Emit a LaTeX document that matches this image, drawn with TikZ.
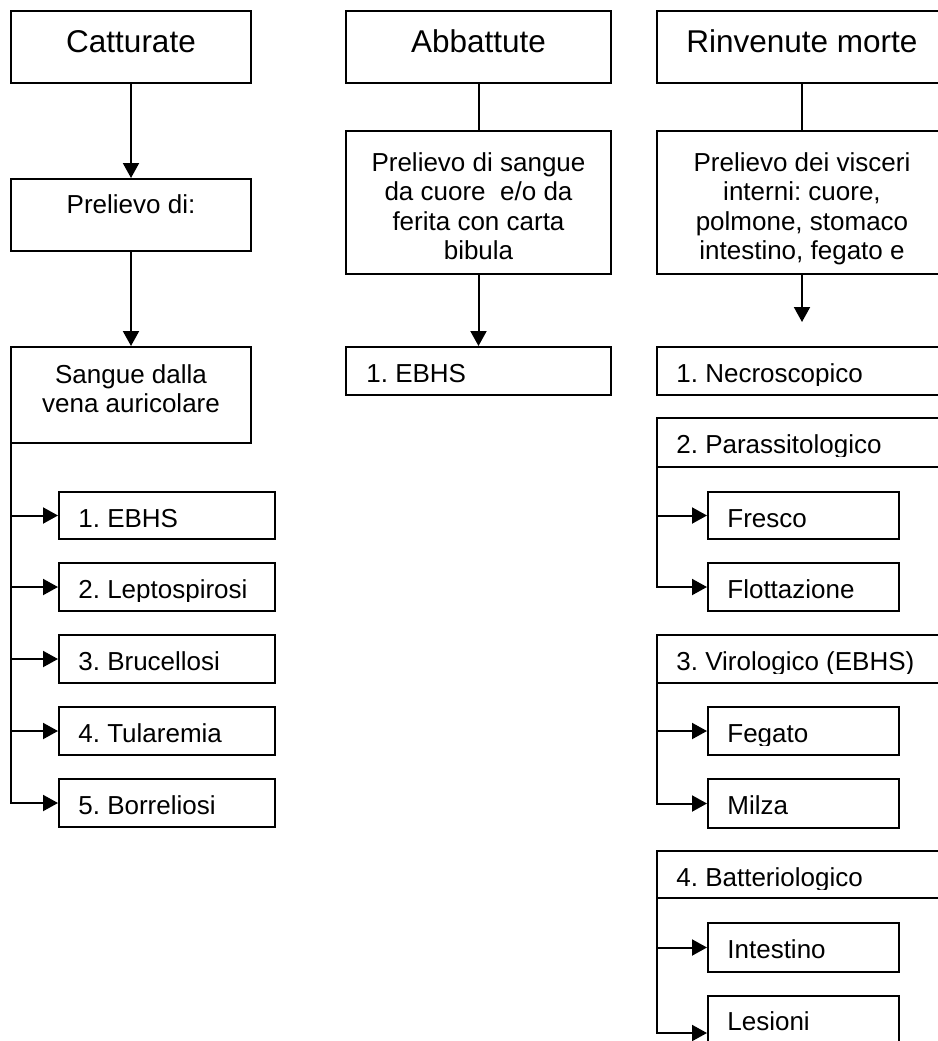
\documentclass[tikz,border=0pt]{standalone}
\usepackage{fontspec}
\setmainfont{Liberation Sans}
\usetikzlibrary{arrows.meta,fit}
\tikzset{
  box/.style={draw, line width=1pt, inner sep=0pt, rectangle},
  link/.style={line width=1pt},
  arr/.style={line width=1pt, -{Triangle[length=7.5pt,width=8pt]}},
  head/.style={inner sep=0pt, font=\fontsize{15.75}{18}\selectfont\frenchspacing, anchor=base},
  ctext/.style={inner sep=0pt, font=\fontsize{13}{14.75}\selectfont\frenchspacing, anchor=base},
  ltext/.style={inner sep=0pt, font=\fontsize{13}{14.75}\selectfont\frenchspacing, anchor=base west},
}
% rectangle through two corners: name, x1, y1, x2, y2
\newcommand\bx[5]{\node[box, fit={(#2,#3) (#4,#5)}] (#1) {};}
% centred lines, baseline of the node = baseline of the first line
\newcommand\lines[1]{\begin{tabular}[t]{@{}c@{}}#1\end{tabular}}
% left-aligned label, cut just under its baseline
\newcommand\lbl[4]{\begin{scope}\clip ({#2-10},{#3-40}) rectangle ({#2+400},{#3+3.5});\node[ltext] (#1) at (#2,#3) {#4};\end{scope}}
\begin{document}
\begin{tikzpicture}[x=0.5pt,y=-0.5pt]
\useasboundingbox (0,0) rectangle (938,1041);
\clip (0,0) rectangle (938,1041);

% ---- column 1: Catturate
\bx{cat}{11}{11}{251}{83}
\bx{pre1}{11}{179}{251}{251}
\bx{sang}{11}{347}{251}{443}
\bx{c1}{59}{492}{275}{539}
\bx{c2}{59}{563}{275}{611}
\bx{c3}{59}{635}{275}{683}
\bx{c4}{59}{707}{275}{755}
\bx{c5}{59}{779}{275}{827}
\node[head] (tcat) at (131,52) {Catturate};
\node[ctext] (tpre1) at (131,213) {Prelievo di:};
\node[ctext] (tsang) at (131,383) {\lines{Sangue dalla\\vena auricolare}};
\lbl{tc1}{78}{527}{1. EBHS}
\lbl{tc2}{78}{598}{2. Leptospirosi}
\lbl{tc3}{78}{670}{3. Brucellosi}
\lbl{tc4}{78}{742}{4. Tularemia}
\lbl{tc5}{78}{814}{5. Borreliosi}
\draw[arr] (cat.south) -- (pre1.north);
\draw[arr] (pre1.south) -- (sang.north);
\foreach \c in {c1,c2,c3,c4,c5}
  \draw[arr] ([xshift=0.5pt]sang.south west) |- (\c.west);

% ---- column 2: Abbattute
\bx{abb}{346}{11}{611}{83}
\bx{pre2}{346}{131}{611}{274}
\bx{eb2}{346}{347}{611}{395}
\node[head] (tabb) at (478.5,52) {Abbattute};
\node[ctext] (tpre2) at (478.5,171) {\lines{Prelievo di sangue\\da cuore~ e/o da\\ferita con carta\\bibula}};
\lbl{teb2}{366}{382}{1. EBHS}
\draw[link] (abb.south) -- (pre2.north);
\draw[arr] (pre2.south) -- (eb2.north);

% ---- column 3: Rinvenute morte
\bx{rin}{657}{11}{947}{83}
\bx{pre3}{657}{131}{947}{274}
\bx{nec}{657}{347}{947}{395}
\bx{par}{657}{418}{947}{467}
\bx{fre}{708}{492}{899}{539}
\bx{flo}{708}{563}{899}{611}
\bx{vir}{657}{635}{947}{683}
\bx{feg}{708}{707}{899}{755}
\bx{mil}{708}{779}{899}{828}
\bx{bat}{657}{851}{947}{898}
\bx{int}{708}{923}{899}{972}
\bx{les}{708}{996}{899}{1070}
\node[head] (trin) at (802,52) {Rinvenute morte};
\node[ctext] (tpre3) at (802,171) {\lines{Prelievo dei visceri\\interni: cuore,\\polmone, stomaco\\intestino, fegato e}};
\lbl{tnec}{676}{382}{1. Necroscopico}
\lbl{tpar}{676}{453}{2. Parassitologico}
\lbl{tfre}{727}{527}{Fresco}
\lbl{tflo}{727}{598}{Flottazione}
\lbl{tvir}{676}{670}{3. Virologico (EBHS)}
\lbl{tfeg}{727}{742}{Fegato}
\lbl{tmil}{727}{814}{Milza}
\lbl{tbat}{676}{886}{4. Batteriologico}
\lbl{tint}{727}{958}{Intestino}
\lbl{tles}{727}{1030}{Lesioni}
\coordinate (pend) at (802,322);
\draw[link] (rin.south) -- (pre3.north);
\draw[arr] (pre3.south) -- (pend);
\foreach \c in {fre,flo}
  \draw[arr] ([xshift=0.5pt]par.south west) |- (\c.west);
\foreach \c in {feg,mil}
  \draw[arr] ([xshift=0.5pt]vir.south west) |- (\c.west);
\foreach \c in {int,les}
  \draw[arr] ([xshift=0.5pt]bat.south west) |- (\c.west);
\end{tikzpicture}
\end{document}
